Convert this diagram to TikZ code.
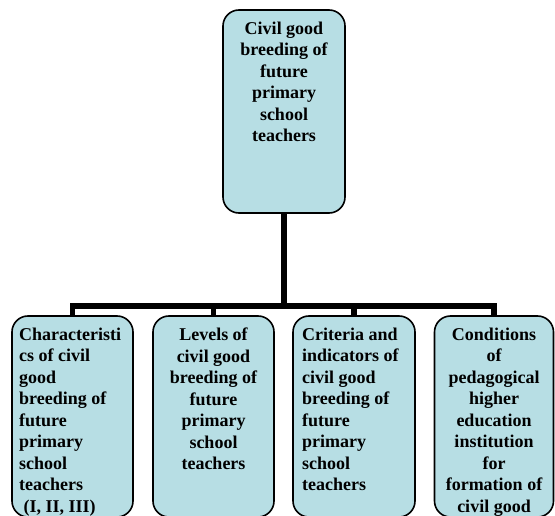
\documentclass[tikz,border=0pt]{standalone}
\usepackage{fontspec}
\setmainfont{Liberation Serif}
\definecolor{boxfill}{RGB}{183,222,228}
\begin{document}
\begin{tikzpicture}[x=1bp,y=-1bp,
  box/.style={draw=black, line width=1.6bp, rounded corners=16bp, fill=boxfill, inner sep=0pt},
  txt/.style={inner sep=0pt, font=\fontsize{18bp}{21.5bp}\selectfont\bfseries},
  conn/.style={line width=5.5bp, line join=miter}]
\useasboundingbox (0,0) rectangle (555,516);
\clip (0,0) rectangle (555,516);
\fill[white] (0,0) rectangle (555,516);
% boxes
\node[box, minimum width=122bp, minimum height=203bp] (top) at (284,111.5) {};
\node[box, minimum width=121bp, minimum height=201bp] (b1) at (72.5,416.5) {};
\node[box, minimum width=121bp, minimum height=201bp] (b2) at (213.5,416.5) {};
\node[box, minimum width=122bp, minimum height=201bp] (b3) at (354,416.5) {};
\node[box, minimum width=119bp, minimum height=201bp] (b4) at (494,416.5) {};
% texts
\node[txt, anchor=north, align=center] (ttop) at (284,21.7) {Civil good\\breeding of\\future\\primary\\school\\teachers};
\node[txt, anchor=north west, align=left] (t1) at (19,327.7) {Characteristi\\cs of civil\\good\\breeding of\\future\\primary\\school\\teachers\\\hspace*{4.5bp}(I, II, III)};
\node[txt, anchor=north, align=center] (t2) at (213.5,327.7) {Levels of\\civil good\\breeding of\\future\\primary\\school\\teachers};
\node[txt, anchor=north west, align=left] (t3) at (302,327.7) {Criteria and\\indicators of\\civil good\\breeding of\\future\\primary\\school\\teachers};
\node[txt, anchor=north, align=center] (t4) at (494,327.7) {Conditions\\of\\pedagogical\\higher\\education\\institution\\for\\formation of\\civil good};
% connectors
\coordinate (bar) at (284,306);
\draw[conn] (top.south) -- (bar);
\draw[conn] (b1.north) |- (b4.north |- bar) -- (b4.north);
\draw[conn] (b2.north) -- (b2.north |- bar);
\draw[conn] (b3.north) -- (b3.north |- bar);
\end{tikzpicture}
\end{document}
